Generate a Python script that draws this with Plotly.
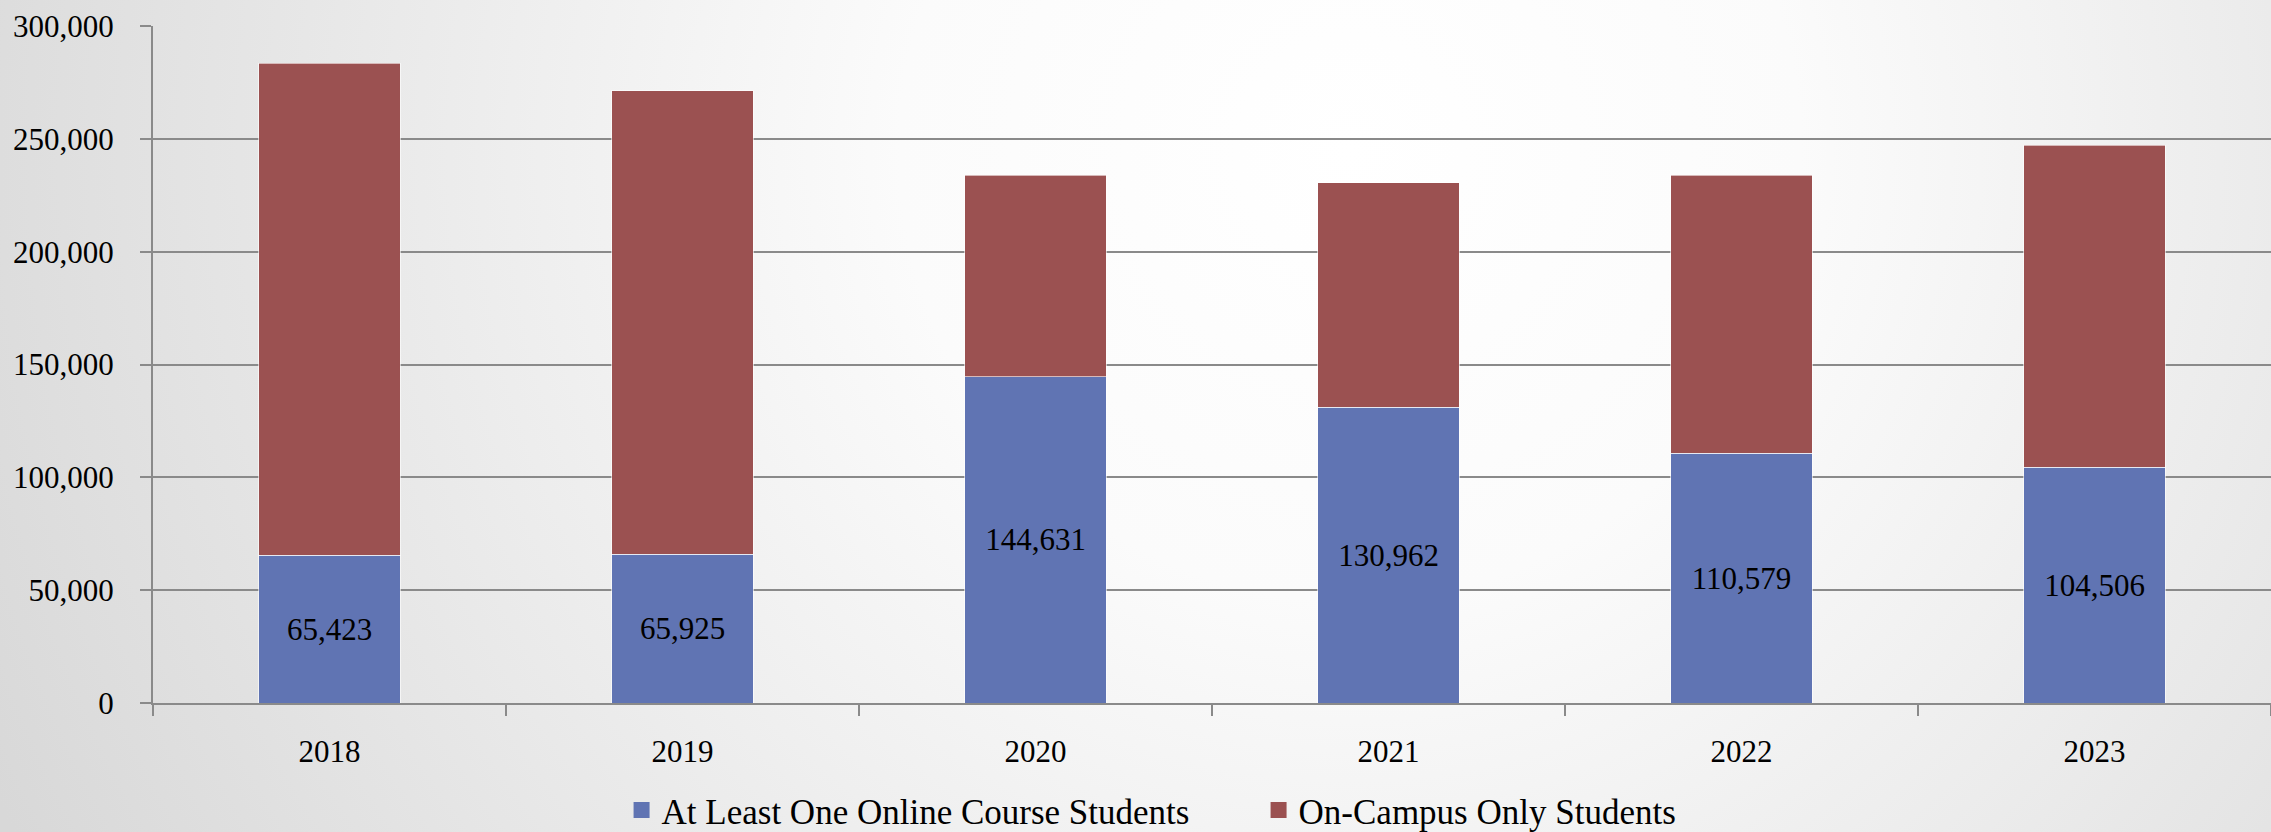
"""Stacked enrollment bar chart: online vs on-campus students by year."""

from __future__ import annotations

import base64

import plotly.graph_objects as go

YEARS = ["2018", "2019", "2020", "2021", "2022", "2023"]
ONLINE_STUDENTS = [65423, 65925, 144631, 130962, 110579, 104506]
ON_CAMPUS_STUDENTS = [218050, 205300, 89200, 99500, 123300, 142600]

ONLINE_LABEL = "At Least One Online Course Students"
ON_CAMPUS_LABEL = "On-Campus Only Students"

Y_TICKS = [0, 50000, 100000, 150000, 200000, 250000, 300000]

WIDTH, HEIGHT = 2271, 832
MARGIN = {"l": 153, "r": 0, "t": 26, "b": 129}

FONT_FAMILY = "Palatino Linotype, Book Antiqua, Palatino, Liberation Serif, serif"
GRID_COLOR = "#8a8a8a"
BLUE = "#6074b3"
RED = "#9b5151"


def _background_image() -> dict:
    """Soft radial grey gradient behind the whole figure."""
    svg = (
        f"<svg xmlns='http://www.w3.org/2000/svg' width='{WIDTH}' height='{HEIGHT}'>"
        "<defs><radialGradient id='g' gradientUnits='userSpaceOnUse' "
        "cx='1350' cy='150' r='1500'>"
        "<stop offset='0' stop-color='#ffffff'/>"
        "<stop offset='0.3' stop-color='#fbfbfb'/>"
        "<stop offset='1' stop-color='#d8d8d8'/>"
        "</radialGradient></defs>"
        f"<rect width='{WIDTH}' height='{HEIGHT}' fill='url(#g)'/></svg>"
    )
    encoded = base64.b64encode(svg.encode()).decode()
    plot_w = WIDTH - MARGIN["l"] - MARGIN["r"]
    plot_h = HEIGHT - MARGIN["t"] - MARGIN["b"]
    return {
        "source": f"data:image/svg+xml;base64,{encoded}",
        "xref": "paper",
        "yref": "paper",
        "x": -MARGIN["l"] / plot_w,
        "y": 1 + MARGIN["t"] / plot_h,
        "sizex": WIDTH / plot_w,
        "sizey": HEIGHT / plot_h,
        "sizing": "stretch",
        "xanchor": "left",
        "yanchor": "top",
        "layer": "below",
    }


def create_enrollment_chart() -> go.Figure:
    """Build the stacked bar chart."""
    figure = go.Figure()
    bar_edge = {"color": "rgba(255,255,255,0.6)", "width": 1}
    figure.add_trace(
        go.Bar(
            x=YEARS,
            y=ONLINE_STUDENTS,
            name=ONLINE_LABEL,
            showlegend=False,
            marker={"color": BLUE, "line": bar_edge},
            texttemplate="%{y:,}",
            textposition="inside",
            insidetextanchor="middle",
            textangle=0,
            textfont={"size": 31, "color": "#000000", "family": FONT_FAMILY},
        )
    )
    figure.add_trace(
        go.Bar(
            x=YEARS,
            y=ON_CAMPUS_STUDENTS,
            name=ON_CAMPUS_LABEL,
            showlegend=False,
            marker={"color": RED, "line": bar_edge},
        )
    )
    # legend-only entries so the swatches can be larger squares
    for label, color in [(ONLINE_LABEL, BLUE), (ON_CAMPUS_LABEL, RED)]:
        figure.add_trace(
            go.Scatter(
                x=[None],
                y=[None],
                mode="markers",
                name=label,
                marker={"symbol": "square", "size": 22, "color": color},
            )
        )

    axis_common = {
        "showline": True,
        "linecolor": GRID_COLOR,
        "linewidth": 2,
        "ticks": "outside",
        "ticklen": 11,
        "tickwidth": 2,
        "tickcolor": GRID_COLOR,
        "tickfont": {"size": 31, "color": "#000000"},
        "ticklabelstandoff": 20,
    }
    figure.update_xaxes(
        tickson="boundaries",
        showgrid=False,
        **axis_common,
    )
    figure.update_yaxes(
        range=[0, 300000],
        tickvals=Y_TICKS,
        tickformat=",",
        showgrid=True,
        gridcolor=GRID_COLOR,
        gridwidth=1.5,
        zeroline=False,
        **axis_common,
    )
    figure.update_layout(
        width=WIDTH,
        height=HEIGHT,
        margin=MARGIN,
        barmode="stack",
        bargap=0.6,
        paper_bgcolor="rgba(0,0,0,0)",
        plot_bgcolor="rgba(0,0,0,0)",
        font={"family": FONT_FAMILY, "size": 31, "color": "#000000"},
        uniformtext={"minsize": 31, "mode": "show"},
        images=[_background_image()],
        legend={
            "orientation": "h",
            "xref": "container",
            "yref": "container",
            "x": 0.2737,
            "xanchor": "left",
            "y": 0.026,
            "yanchor": "middle",
            "font": {"size": 35},
            "bgcolor": "rgba(0,0,0,0)",
            "traceorder": "normal",
            "itemsizing": "trace",
            "entrywidth": 592,
        },
        showlegend=True,
    )
    return figure


fig = create_enrollment_chart()
fig.write_html(
    "out.html",
    config={"displayModeBar": False},
    post_script="document.body.style.margin = '0';",
)
